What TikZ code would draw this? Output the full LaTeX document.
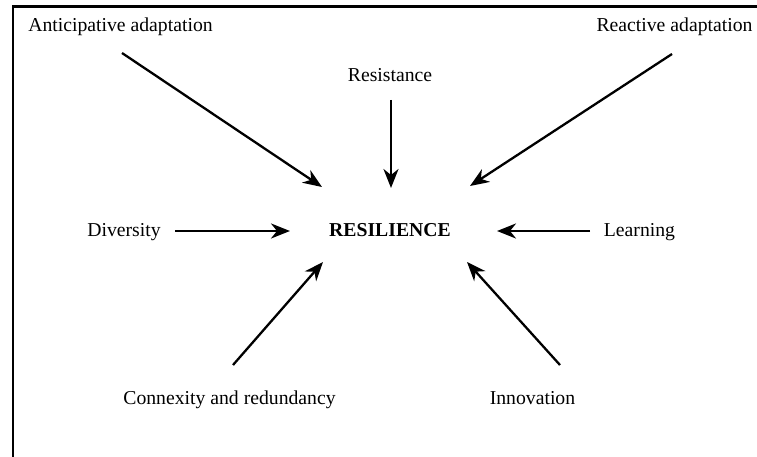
\documentclass[tikz,border=0pt]{standalone}
\usepackage{fontspec}
\setmainfont{Liberation Serif}
\usetikzlibrary{arrows.meta}
\begin{document}
\begin{tikzpicture}[x=1pt,y=-1pt,
  lbl/.style={anchor=base,inner sep=0pt,font=\fontsize{19.7}{23}\selectfont},
  arr/.style={line width=2.3pt,-{Stealth[length=19pt,width=15pt,inset=6pt]}},
  frame/.style={line width=2.5pt}]
\useasboundingbox (0,0) rectangle (757,457);
\draw[frame] (13,457) -- (13,6.5) -- (757,6.5);
\node[lbl] (ant) at (120.5,32) {Anticipative adaptation};
\node[lbl] (rea) at (674.5,32) {Reactive adaptation};
\node[lbl] (res) at (390,82) {Resistance};
\node[lbl] (div) at (124,236) {Diversity};
\node[lbl,font=\fontsize{19.7}{23}\selectfont\bfseries] (resil) at (390,236) {RESILIENCE};
\node[lbl] (lea) at (639.5,236) {Learning};
\node[lbl] (con) at (229.5,404) {Connexity and redundancy};
\node[lbl] (inn) at (532.5,404) {Innovation};
\coordinate (antS) at (122,53);  \coordinate (antE) at (322,187);
\coordinate (resS) at (391,100); \coordinate (resE) at (391,188);
\coordinate (reaS) at (672,54);  \coordinate (reaE) at (470,186);
\coordinate (divS) at (175,231); \coordinate (divE) at (290,231);
\coordinate (leaS) at (590,231); \coordinate (leaE) at (497,231);
\coordinate (conS) at (233,365); \coordinate (conE) at (323,262);
\coordinate (innS) at (560,365); \coordinate (innE) at (467,262);
\draw[arr] (antS) -- (antE);
\draw[arr] (resS) -- (resE);
\draw[arr] (reaS) -- (reaE);
\draw[arr] (divS) -- (divE);
\draw[arr] (leaS) -- (leaE);
\draw[arr] (conS) -- (conE);
\draw[arr] (innS) -- (innE);
\end{tikzpicture}
\end{document}
